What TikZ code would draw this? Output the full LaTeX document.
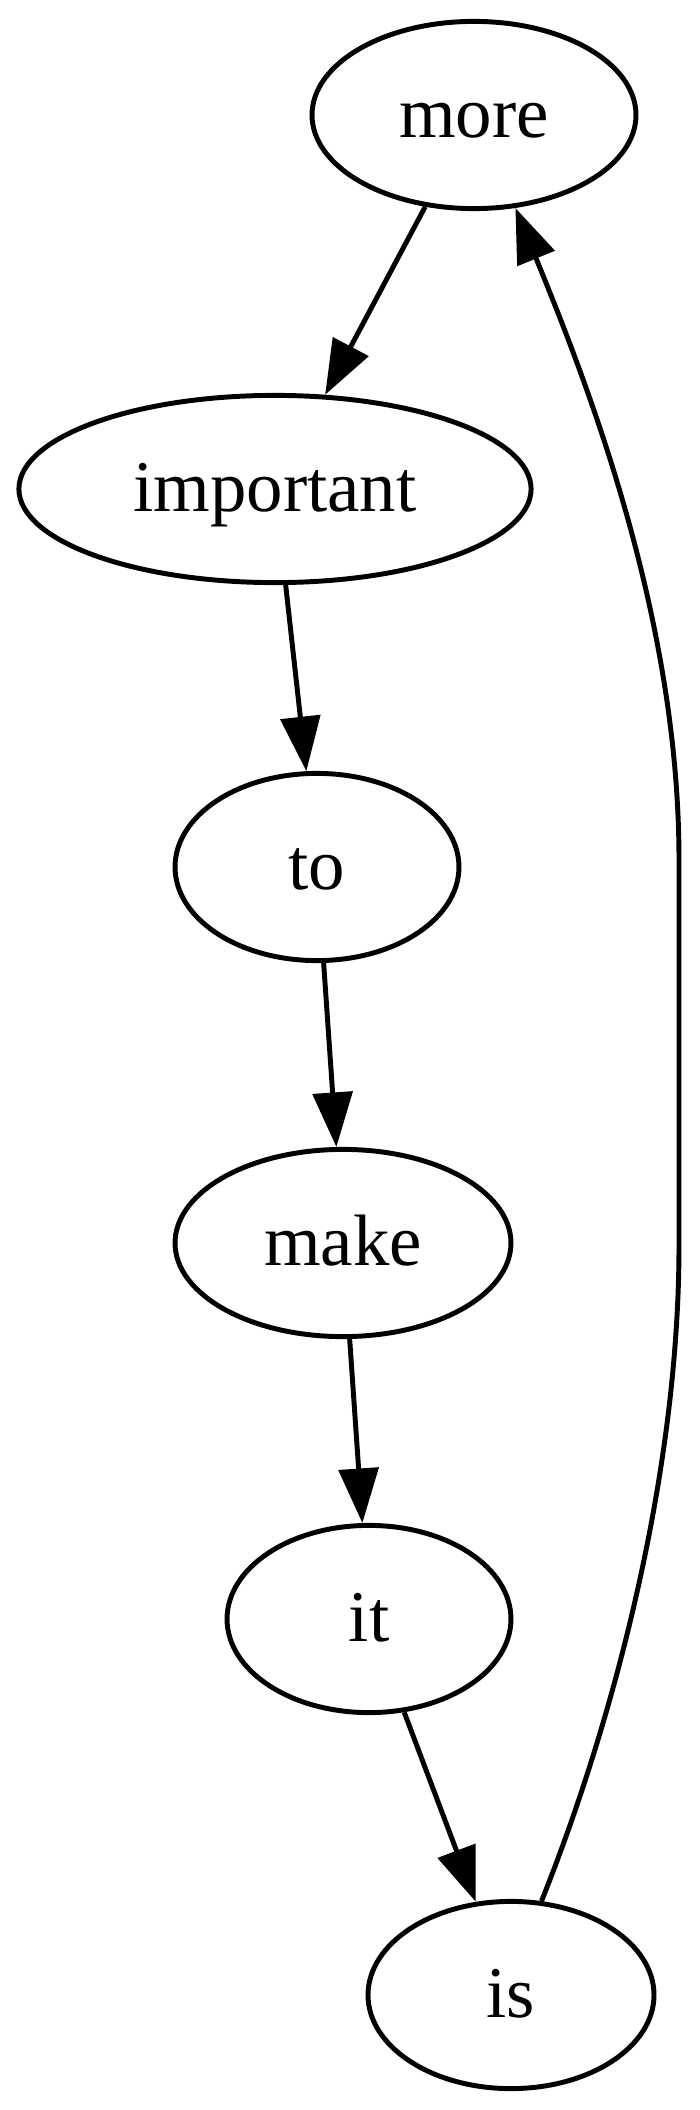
\documentclass[tikz,border=0pt]{standalone}
\usepackage{fontspec}
\setmainfont{Liberation Serif}
\usetikzlibrary{shapes.geometric, arrows.meta}

\begin{document}
\begin{tikzpicture}[
    x=0.1923pt, y=-0.1923pt,
    word/.style={draw, ellipse, inner sep=0pt, minimum height=36pt, line width=0.95pt, text height=10.6pt, text depth=2pt, font=\fontsize{14pt}{17pt}\selectfont},
    arrow/.style={-{Triangle[length=10.5pt, width=7.6pt]}, line width=0.95pt}
]
    \useasboundingbox (0,0) rectangle (700,2110);

    % words
    \node[word, minimum width=62.3pt] (more) at (474,115) {more};
    \node[word, minimum width=98.5pt] (important) at (275,489) {important};
    \node[word, minimum width=54.6pt] (to) at (317,867) {to};
    \node[word, minimum width=64.6pt] (make) at (343,1243) {make};
    \node[word, minimum width=54.6pt] (it) at (369,1619) {it};
    \node[word, minimum width=55pt] (is) at (511,1995) {is};

    % edges
    \draw[arrow] (more) -- (important);
    \draw[arrow] (important) -- (to);
    \draw[arrow] (to) -- (make);
    \draw[arrow] (make) -- (it);
    \draw[arrow] (it) -- (is);
    \draw[arrow] (is.72) .. controls (610,1730) and (679,1480) .. (679,1245)
        -- (679,860) .. controls (679,620) and (590,390) .. (more.-66);
\end{tikzpicture}
\end{document}
